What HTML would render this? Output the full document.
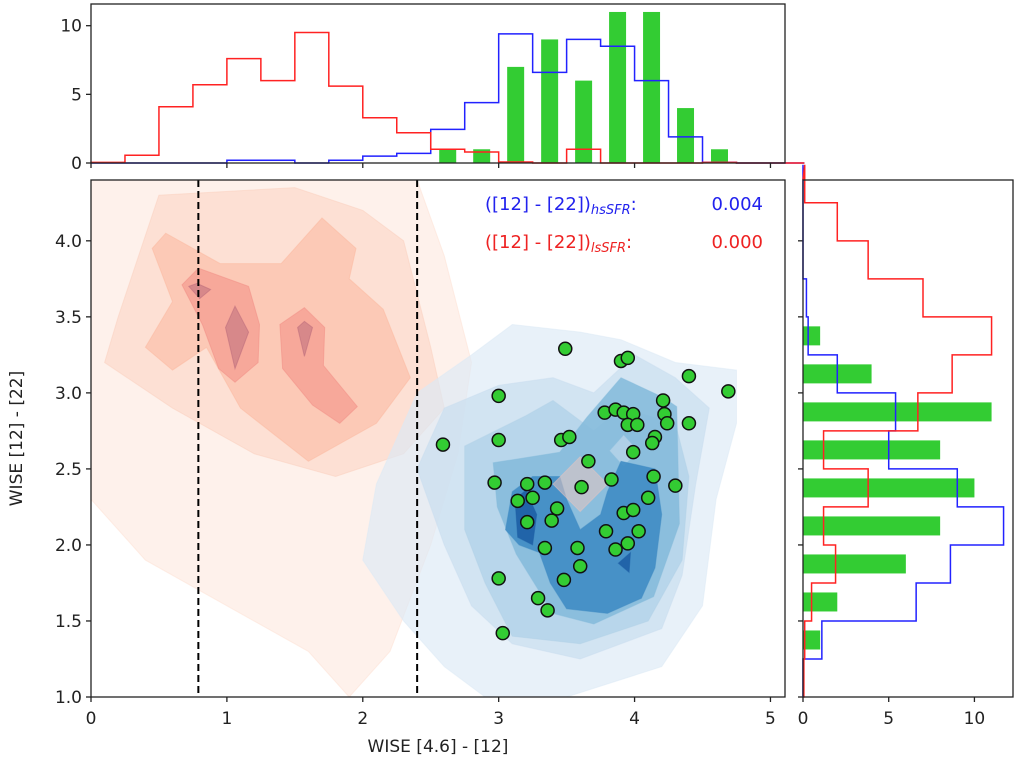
<!DOCTYPE html>
<html><head><meta charset="utf-8"><style>
html,body{margin:0;padding:0;background:#fff;}
svg{display:block;font-family:"DejaVu Sans","Liberation Sans",sans-serif;}
</style></head><body>
<svg id="fig" width="1020" height="771" viewBox="0 0 1020 771" xmlns="http://www.w3.org/2000/svg"></svg>
<script>
// ---------- data ----------
const topBinStart = 0, topBinWidth = 0.25;
const topRed  = [0.05,0.56,4.1,5.7,7.6,6.0,9.5,5.6,3.3,2.2,1.0,0.8,0.07,0,1.0,0,0,0,0.05,0,0];
const topBlue = [0,0,0,0,0.2,0.2,0,0.2,0.5,0.7,2.45,4.4,9.4,6.6,9.0,8.5,6.0,1.9,0.05,0,0];
const topGreenCenters = [2.625,2.875,3.125,3.375,3.625,3.875,4.125,4.375,4.625];
const topGreenCounts  = [1,1,7,9,6,11,11,4,1];
const rightBinStart = 1.0, rightBinWidth = 0.25;
const rightRed  = [0.05,0.1,0.5,1.9,1.2,3.8,1.2,6.7,8.7,11.0,7.0,3.8,2.0,0.1];
const rightBlue = [0,1.1,6.6,8.6,11.7,9.0,5.0,5.4,2.0,0.3,0.2,0,0,0];
const rightGreenCenters = [1.375,1.625,1.875,2.125,2.375,2.625,2.875,3.125,3.375];
const rightGreenCounts  = [1,2,6,8,10,8,11,4,1];
const ptX = [3.49,3.90,3.95,4.40,4.69,3.00,3.78,3.86,3.92,3.99,3.95,4.02,4.21,4.22,4.24,4.40,3.00,3.46,3.52,2.59,4.15,4.13,3.99,3.66,3.83,4.14,4.30,2.97,3.21,3.34,3.61,4.10,3.14,3.25,3.43,3.92,3.99,3.21,3.39,3.79,4.03,3.95,3.86,3.34,3.58,3.60,3.00,3.48,3.29,3.36,3.03];
const ptY = [3.29,3.21,3.23,3.11,3.01,2.98,2.87,2.89,2.87,2.86,2.79,2.79,2.95,2.86,2.80,2.80,2.69,2.69,2.71,2.66,2.71,2.67,2.61,2.55,2.43,2.45,2.39,2.41,2.40,2.41,2.38,2.31,2.29,2.31,2.24,2.21,2.23,2.15,2.16,2.09,2.09,2.01,1.97,1.98,1.98,1.86,1.78,1.77,1.65,1.57,1.42];
const dashX = [0.79, 2.40];
const xTicks = [0,1,2,3,4,5];
const yTicks = [1.0,1.5,2.0,2.5,3.0,3.5,4.0];
const histTicks = [0,5,10];
// contour polygons (data coords) [fill, opacity, points]
const redLevels = [
 ["#fde0d2",0.45,[[0,4.4],[2.4,4.4],[2.6,3.9],[2.8,3.2],[2.7,2.6],[2.5,2.0],[2.2,1.3],[1.9,1.0],[1.6,1.3],[1.0,1.6],[0.4,1.9],[0,2.3]]],
 ["#fcd0bd",0.5,[[0.2,3.5],[0.5,4.3],[1.5,4.35],[2.0,4.2],[2.3,4.0],[2.5,3.3],[2.6,2.9],[2.3,2.6],[1.8,2.45],[1.2,2.6],[0.6,2.9],[0.1,3.2]]],
 ["#fbb79d",0.55,[[0.45,3.95],[0.55,4.05],[0.95,3.85],[1.4,3.85],[1.7,4.15],[1.95,3.95],[1.9,3.75],[2.15,3.55],[2.35,3.1],[2.1,2.8],[1.6,2.55],[1.1,2.9],[0.85,3.3],[0.6,3.15],[0.4,3.3],[0.6,3.6]]],
 ["#f28c84",0.55,[[0.67,3.71],[0.79,3.82],[1.16,3.70],[1.24,3.45],[1.23,3.20],[1.06,3.07],[0.94,3.16],[0.82,3.45]]],
 ["#f28c84",0.55,[[1.39,3.45],[1.57,3.56],[1.72,3.43],[1.71,3.18],[1.96,2.91],[1.83,2.80],[1.63,2.92],[1.41,3.16]]],
 ["#b8687a",0.5,[[0.99,3.43],[1.06,3.57],[1.16,3.40],[1.06,3.16]]],
 ["#b8687a",0.5,[[1.52,3.43],[1.57,3.47],[1.63,3.43],[1.57,3.24]]],
 ["#b8687a",0.5,[[0.72,3.70],[0.78,3.72],[0.88,3.68],[0.8,3.62]]],
 ["#fbb79d",0.5,[[3.35,2.4],[3.6,2.62],[3.85,2.4],[3.6,2.18]]]
];
const blueLevels = [
 ["#dbe9f6",0.65,[[2.4,3.0],[2.8,3.25],[3.1,3.45],[3.6,3.4],[3.9,3.35],[4.3,3.2],[4.75,3.15],[4.75,2.8],[4.6,2.3],[4.5,1.6],[4.2,1.2],[3.5,1.0],[2.9,1.0],[2.6,1.2],[2.3,1.5],[2.0,1.9],[2.1,2.4]]],
 ["#c9def0",0.7,[[2.6,2.9],[3.0,3.05],[3.4,3.1],[3.7,3.0],[4.0,3.25],[4.3,3.1],[4.55,2.9],[4.45,2.4],[4.35,1.8],[4.2,1.45],[3.6,1.25],[3.1,1.35],[2.8,1.6],[2.6,2.0],[2.4,2.5]]],
 ["#b2d2e8",0.8,[[2.75,2.65],[3.2,2.85],[3.4,2.95],[3.7,2.75],[3.9,2.9],[4.3,2.8],[4.4,2.45],[4.35,1.9],[4.1,1.5],[3.6,1.35],[3.1,1.4],[2.9,1.75],[2.75,2.1]]],
 ["#86bbdc",0.9,[[2.96,2.54],[3.45,2.61],[3.65,2.84],[3.90,3.10],[4.21,2.97],[4.31,2.91],[4.33,2.14],[4.14,1.66],[3.70,1.48],[3.40,1.55],[3.13,1.94],[2.99,2.25]]],
 ["#b2d2e8",0.9,[[3.82,2.62],[3.92,2.72],[4.02,2.62],[3.92,2.52]]],
 ["#3f8cc4",0.9,[[3.1,2.35],[3.25,2.45],[3.45,2.45],[3.5,2.3],[3.6,2.1],[3.75,2.2],[3.8,2.35],[3.9,2.55],[4.15,2.5],[4.2,2.2],[4.15,1.85],[4.05,1.65],[3.8,1.55],[3.5,1.58],[3.38,1.75],[3.3,1.95],[3.15,2.0],[3.05,2.1]]],
 ["#1d5fa5",0.9,[[3.12,2.3],[3.2,2.36],[3.28,2.2],[3.25,2.0],[3.14,2.05]]],
 ["#1d5fa5",0.9,[[3.88,1.88],[3.96,1.82],[3.97,1.95]]],
 ["#e8c4c0",0.55,[[3.4,2.4],[3.6,2.58],[3.8,2.4],[3.6,2.22]]]
];
// ---------- layout ----------
const M = {l:91,r:785,t:180,b:697};
const T = {l:91,r:785,t:4,b:163};
const R = {l:803,r:1013,t:180,b:697};
const xMin=0,xMax=5.107,yMin=1.0,yMax=4.4;
const sx = v => M.l + (v-xMin)/(xMax-xMin)*(M.r-M.l);
const sy = v => M.b - (v-yMin)/(yMax-yMin)*(M.b-M.t);
const topMax = 11.58;
const tY = v => T.b - v/topMax*(T.b-T.t);
const rMax = 12.25;
const rX = v => R.l + v/rMax*(R.r-R.l);
const NS="http://www.w3.org/2000/svg";
const svg=document.getElementById('fig');
function mk(tag,attrs,parent){const e=document.createElementNS(NS,tag);for(const k in attrs)e.setAttribute(k,attrs[k]);(parent||svg).appendChild(e);return e;}
const defs=mk('defs',{});
const cp=mk('clipPath',{id:'mainclip'},defs);mk('rect',{x:M.l,y:M.t,width:M.r-M.l,height:M.b-M.t},cp);
// ---------- main axes ----------
const gMain=mk('g',{'clip-path':'url(#mainclip)'});


function poly(level,g,name){
  const pts=level[2].map(p=>sx(p[0]).toFixed(1)+','+sy(p[1]).toFixed(1)).join(' ');
  const e=mk('polygon',{points:pts,fill:level[0],'fill-opacity':level[1],stroke:level[0],'stroke-opacity':0.5,'stroke-width':1},g);
  
  
}
redLevels.forEach(l=>poly(l,gMain,'lssfr-density-contour'));
blueLevels.forEach(l=>poly(l,gMain,'hssfr-density-contour'));
dashX.forEach(v=>{
  const e=mk('line',{x1:sx(v),x2:sx(v),y1:M.t,y2:M.b,stroke:'#000','stroke-width':2,'stroke-dasharray':'7,4'},gMain);
  
  
});
ptX.forEach((x,i)=>{
  const e=mk('circle',{cx:sx(x),cy:sy(ptY[i]),r:6.5,fill:'#33cc33',stroke:'#111','stroke-width':1.5},gMain);
  
  
});
const fr=mk('rect',{x:M.l,y:M.t,width:M.r-M.l,height:M.b-M.t,fill:'none',stroke:'#222','stroke-width':1.3});


xTicks.forEach(v=>{
  mk('line',{x1:sx(v),x2:sx(v),y1:M.b,y2:M.b+5,stroke:'#222','stroke-width':1.3});
  const t=mk('text',{x:sx(v),y:M.b+27,'font-size':17,'text-anchor':'middle',fill:'#222'});t.textContent=v;
  
  
});
yTicks.forEach(v=>{
  mk('line',{x1:M.l-5,x2:M.l,y1:sy(v),y2:sy(v),stroke:'#222','stroke-width':1.3});
  const t=mk('text',{x:M.l-9,y:sy(v)+6,'font-size':17,'text-anchor':'end',fill:'#222'});t.textContent=v.toFixed(1);
  
  
  mk('line',{x1:R.l-5,x2:R.l,y1:sy(v),y2:sy(v),stroke:'#222','stroke-width':1.3});
});
const xl=mk('text',{x:(M.l+M.r)/2,y:752,'font-size':17,'text-anchor':'middle',fill:'#222'});xl.textContent='WISE [4.6] - [12]';


const yl=mk('text',{x:22,y:(M.t+M.b)/2,'font-size':17,'text-anchor':'middle',fill:'#222',transform:`rotate(-90 22 ${(M.t+M.b)/2})`});yl.textContent='WISE [12] - [22]';


function anno(y,color,sub,val,name){
  const t=mk('text',{x:485,y:y,'font-size':18,fill:color});
  
  
  const a=mk('tspan',{},t);a.textContent='([12] - [22])';
  const b=mk('tspan',{'font-size':13,'font-style':'italic',dy:4},t);b.textContent=sub;
  const c=mk('tspan',{dy:-4},t);c.textContent=':';
  const v=mk('text',{x:763,y:y,'font-size':18,fill:color,'text-anchor':'end'});v.textContent=val;
  
  
}
anno(210,'#2222ee','hsSFR','0.004','hssfr-annotation');
anno(248,'#ee2222','lsSFR','0.000','lssfr-annotation');
// ---------- top histogram ----------
function stepTop(vals,color,name){
  let d=`M${sx(topBinStart)},${tY(0)}`;
  vals.forEach((v,i)=>{const x0=sx(topBinStart+i*topBinWidth),x1=sx(topBinStart+(i+1)*topBinWidth);d+=` L${x0},${tY(v)} L${x1},${tY(v)}`;});
  d+=` L${T.r},${tY(0)}`;
  const e=mk('path',{d:d,fill:'none',stroke:color,'stroke-width':1.5});
  
  
}
topGreenCenters.forEach((c,i)=>{
  const w=sx(topBinWidth/2)-sx(0);
  const e=mk('rect',{x:sx(c)-w/2,y:tY(topGreenCounts[i]),width:w,height:tY(0)-tY(topGreenCounts[i]),fill:'#33cc33'});
  
  
});
stepTop(topBlue,'#2222ff','top-hssfr-histogram');
stepTop(topRed,'#ff2222','top-lssfr-histogram');
const tf=mk('rect',{x:T.l,y:T.t,width:T.r-T.l,height:T.b-T.t,fill:'none',stroke:'#222','stroke-width':1.3});


xTicks.forEach(v=>mk('line',{x1:sx(v),x2:sx(v),y1:T.b,y2:T.b+5,stroke:'#222','stroke-width':1.3}));
histTicks.forEach(v=>{
  mk('line',{x1:T.l-5,x2:T.l,y1:tY(v),y2:tY(v),stroke:'#222','stroke-width':1.3});
  const t=mk('text',{x:T.l-9,y:tY(v)+6,'font-size':17,'text-anchor':'end',fill:'#222'});t.textContent=v;
  
  
});
// ---------- right histogram ----------
function stepRight(vals,color,name){
  let d=`M${rX(0)},${sy(rightBinStart)}`;
  vals.forEach((v,i)=>{const y0=sy(rightBinStart+i*rightBinWidth),y1=sy(rightBinStart+(i+1)*rightBinWidth);d+=` L${rX(v)},${y0} L${rX(v)},${y1}`;});
  d+=` L${rX(0)},${R.t}`;
  const e=mk('path',{d:d,fill:'none',stroke:color,'stroke-width':1.5});
  
  
}
rightGreenCenters.forEach((c,i)=>{
  const h=sy(0)-sy(rightBinWidth/2);
  const e=mk('rect',{x:rX(0),y:sy(c)-h/2,width:rX(rightGreenCounts[i])-rX(0),height:h,fill:'#33cc33'});
  
  
});
stepRight(rightBlue,'#2222ff','right-hssfr-histogram');
stepRight(rightRed,'#ff2222','right-lssfr-histogram');
const rf=mk('rect',{x:R.l,y:R.t,width:R.r-R.l,height:R.b-R.t,fill:'none',stroke:'#222','stroke-width':1.3});


histTicks.forEach(v=>{
  mk('line',{x1:rX(v),x2:rX(v),y1:R.b,y2:R.b+5,stroke:'#222','stroke-width':1.3});
  const t=mk('text',{x:rX(v),y:R.b+27,'font-size':17,'text-anchor':'middle',fill:'#222'});t.textContent=v;
  
  
});
</script>
</body></html>
